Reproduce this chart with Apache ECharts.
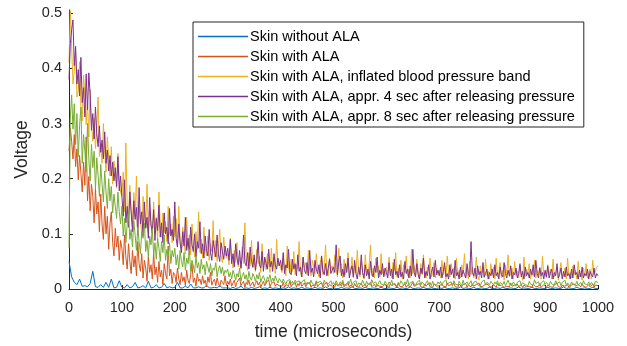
<!DOCTYPE html>
<html>
<head>
<meta charset="utf-8">
<script src="https://cdn.jsdelivr.net/npm/echarts@6/dist/echarts.min.js"></script>
<style>
  html, body { margin: 0; padding: 0; background: #fff; }
  #chart { width: 627px; height: 346px; }
</style>
</head>
<body>
<div id="chart"></div>
<script>
// values in millivolts; one row = 100 microseconds
const NO_ALA_STEP_US = 5;
const SAMPLE_STEP_US = 2.5;

const seriesNames = [
  'Skin without ALA',
  'Skin with ALA',
  'Skin with ALA, inflated blood pressure band',
  'Skin with ALA, appr. 4 sec after releasing pressure',
  'Skin with ALA, appr. 8 sec after releasing pressure'
];

const noAlaMv = [
  50, 22, 12, 8, 18, 5, 6, 4, 10, 32, 4, 3, 8, 3, 12, 3, 18, 2, 3, 15,
  3, 2, 8, 2, 4, 12, 2, 3, 6, 2, 14, 2, 3, 8, 2, 3, 10, 2, 4, 2,
  3, 12, 2, 2, 5, 2, 9, 2, 2, 4, 2, 2, 7, 2, 2, 3, 2, 6, 2, 2,
  2, 1, 3, 1, 2, 5, 1, 2, 1, 3, 1, 2, 4, 1, 2, 1, 3, 1, 2, 1,
  1, 2, 1, 4, 1, 2, 1, 1, 3, 1, 2, 1, 1, 3, 1, 2, 1, 4, 1, 1,
  2, 1, 1, 3, 1, 2, 1, 4, 1, 1, 2, 1, 3, 1, 1, 2, 1, 1, 3, 1,
  1, 2, 1, 1, 3, 1, 2, 1, 1, 4, 1, 1, 2, 1, 3, 1, 1, 2, 1, 1,
  2, 1, 3, 1, 1, 2, 1, 1, 4, 1, 2, 1, 1, 3, 1, 1, 2, 1, 1, 3,
  1, 1, 2, 1, 3, 1, 1, 2, 1, 1, 4, 1, 2, 1, 1, 3, 1, 1, 2, 1,
  1, 3, 1, 1, 2, 1, 1, 4, 1, 2, 1, 1, 3, 1, 1, 2, 1, 1, 3, 1,
  1
];

const withAlaMv = [
  250, 292, 268, 236, 280, 222, 254, 198, 242, 210, 176, 230, 188, 276, 160, 204, 142, 190, 168, 120,
  182, 136, 158, 104, 172, 118, 90, 150, 100, 132, 72, 118, 140, 84, 60, 110, 76, 96, 52, 88,
  74, 44, 98, 58, 36, 82, 50, 28, 70, 40, 60, 24, 86, 46, 32, 64, 20, 52, 38, 14,
  58, 30, 44, 18, 66, 26, 40, 12, 50, 22, 34, 8, 46, 28, 18, 78, 24, 36, 10, 30,
  26, 12, 38, 18, 8, 30, 14, 22, 6, 34, 16, 10, 26, 46, 12, 20, 5, 28, 14, 18,
  8, 24, 10, 16, 4, 22, 12, 30, 7, 14, 18, 6, 20, 10, 4, 16, 12, 8, 24, 6,
  14, 8, 18, 5, 11, 16, 4, 12, 9, 20, 6, 10, 14, 3, 12, 8, 16, 5, 9, 13,
  4, 10, 15, 7, 12, 3, 9, 14, 6, 11, 8, 17, 4, 10, 7, 13, 5, 9, 12, 6,
  9, 5, 12, 3, 8, 11, 6, 14, 4, 9, 7, 12, 3, 10, 6, 13, 5, 8, 11, 4,
  9, 6, 12, 3, 7, 10, 5, 13, 4, 8, 6, 11, 3, 9, 7, 12, 4, 8, 10, 5,
  7, 4, 10, 6, 3, 9, 5, 12, 4, 8, 6, 11, 3, 7, 9, 4, 10, 5, 8, 3,
  6, 11, 4, 7, 9, 3, 8, 5, 12, 4, 6, 9, 3, 7, 10, 5, 8, 4, 6, 9,
  5, 8, 3, 10, 6, 4, 9, 7, 3, 11, 5, 8, 4, 6, 10, 3, 7, 9, 4, 6,
  12, 5, 3, 8, 6, 10, 4, 7, 3, 9, 5, 8, 11, 4, 6, 3, 9, 7, 5, 8,
  6, 3, 9, 5, 7, 4, 11, 6, 3, 8, 5, 10, 4, 7, 3, 9, 6, 4, 8, 5,
  10, 3, 7, 6, 4, 9, 5, 3, 8, 6, 11, 4, 7, 5, 3, 9, 6, 8, 4, 7,
  4, 8, 5, 3, 10, 6, 4, 7, 9, 3, 6, 5, 8, 4, 11, 5, 3, 7, 6, 9,
  4, 5, 8, 3, 7, 10, 4, 6, 5, 8, 3, 9, 6, 4, 7, 5, 10, 3, 6, 8,
  5, 3, 7, 9, 4, 6, 3, 8, 5, 10, 4, 6, 3, 7, 9, 5, 4, 8, 3, 6,
  7, 4, 9, 5, 3, 8, 6, 4, 10, 5, 7, 3, 6, 8, 4, 5, 9, 3, 7, 5,
  6
];

const inflatedMv = [
  410, 505, 440, 372, 395, 430, 348, 360, 412, 330, 305, 388, 352, 298, 340, 276, 362, 300, 268, 310,
  255, 292, 348, 240, 262, 228, 300, 251, 212, 276, 238, 205, 258, 190, 232, 214, 183, 246, 198, 175,
  168, 212, 140, 265, 150, 128, 188, 142, 118, 175, 132, 205, 110, 150, 124, 98, 168, 135, 112, 190,
  104, 142, 120, 96, 158, 108, 130, 88, 176, 115, 94, 138, 102, 122, 86, 150, 99, 118, 84, 132,
  95, 128, 78, 150, 88, 70, 112, 84, 64, 130, 76, 98, 62, 118, 80, 58, 104, 72, 140, 66,
  90, 56, 112, 74, 60, 96, 52, 82, 68, 124, 58, 88, 50, 76, 108, 62, 48, 94, 66, 56,
  64, 44, 92, 52, 38, 70, 48, 84, 40, 58, 36, 76, 46, 120, 50, 34, 66, 42, 88, 38,
  54, 32, 72, 46, 60, 30, 82, 40, 52, 35, 64, 44, 30, 74, 38, 56, 28, 90, 42, 48,
  46, 30, 62, 36, 24, 78, 40, 28, 54, 32, 68, 26, 44, 36, 86, 30, 22, 58, 38, 48,
  26, 70, 34, 24, 52, 40, 28, 64, 32, 22, 48, 60, 26, 38, 80, 30, 24, 56, 34, 42,
  28, 62, 36, 22, 74, 30, 46, 20, 54, 26, 38, 66, 24, 32, 58, 20, 44, 28, 70, 34,
  22, 50, 30, 18, 62, 36, 26, 46, 80, 24, 38, 20, 56, 30, 42, 22, 64, 28, 36, 24,
  40, 24, 58, 30, 20, 48, 34, 66, 22, 38, 26, 52, 18, 44, 30, 60, 24, 36, 20, 72,
  28, 42, 22, 54, 32, 18, 46, 26, 62, 30, 20, 40, 34, 56, 22, 28, 48, 20, 38, 26,
  34, 20, 52, 26, 42, 18, 60, 28, 22, 46, 30, 38, 18, 56, 24, 34, 20, 44, 28, 64,
  22, 36, 18, 50, 26, 40, 20, 30, 58, 24, 16, 42, 28, 36, 20, 54, 24, 32, 18, 46,
  26, 40, 18, 56, 22, 30, 48, 20, 34, 16, 44, 26, 62, 22, 28, 38, 18, 50, 24, 32,
  20, 42, 26, 16, 58, 22, 36, 28, 46, 18, 30, 24, 52, 20, 34, 26, 40, 18, 60, 24,
  30, 20, 44, 26, 36, 18, 54, 22, 28, 40, 16, 32, 48, 20, 26, 38, 18, 56, 24, 30,
  20, 42, 26, 34, 18, 50, 22, 28, 16, 38, 24, 46, 20, 30, 36, 18, 52, 26, 32, 40,
  42
];

const after4sMv = [
  380, 445, 470, 488, 405, 440, 372, 398, 350, 420, 338, 365, 312, 390, 325, 392, 352, 288, 318, 272,
  330, 282, 258, 296, 248, 270, 236, 285, 228, 252, 214, 242, 205, 230, 196, 220, 186, 240, 178, 205,
  168, 132, 198, 120, 150, 112, 176, 138, 104, 160, 126, 148, 98, 184, 118, 140, 96, 158, 110, 130,
  92, 166, 116, 102, 144, 88, 128, 106, 152, 94, 120, 84, 138, 100, 112, 82, 146, 96, 108, 88,
  158, 92, 76, 118, 84, 66, 104, 78, 130, 70, 92, 62, 112, 80, 68, 100, 58, 86, 74, 122,
  64, 82, 56, 96, 70, 60, 108, 66, 52, 88, 72, 58, 98, 62, 50, 84, 68, 54, 78, 60,
  74, 52, 90, 46, 64, 40, 82, 56, 44, 70, 38, 60, 98, 48, 42, 66, 36, 76, 50, 40,
  62, 34, 54, 86, 44, 38, 68, 32, 58, 46, 36, 72, 40, 50, 32, 64, 44, 36, 56, 42,
  52, 34, 66, 28, 44, 38, 72, 30, 26, 54, 36, 46, 24, 62, 32, 40, 22, 58, 34, 28,
  48, 24, 70, 30, 38, 22, 52, 36, 28, 44, 20, 60, 32, 26, 46, 24, 38, 54, 28, 34,
  40, 30, 80, 26, 50, 60, 24, 36, 22, 46, 30, 56, 20, 34, 42, 22, 52, 28, 18, 40,
  26, 62, 30, 20, 44, 24, 36, 18, 50, 28, 22, 42, 30, 58, 20, 34, 26, 46, 22, 38,
  30, 20, 48, 24, 36, 18, 54, 26, 32, 20, 44, 22, 30, 18, 50, 28, 36, 20, 42, 24,
  72, 30, 22, 46, 26, 18, 38, 28, 56, 20, 32, 24, 44, 18, 30, 40, 22, 52, 26, 34,
  24, 40, 20, 32, 48, 22, 28, 18, 44, 26, 36, 20, 52, 24, 30, 18, 40, 22, 34, 26,
  20, 46, 28, 22, 86, 30, 24, 38, 18, 42, 26, 32, 20, 48, 22, 28, 36, 18, 30, 24,
  36, 20, 44, 24, 30, 18, 40, 26, 22, 48, 28, 20, 34, 24, 42, 18, 30, 26, 38, 20,
  28, 46, 22, 32, 18, 40, 24, 30, 20, 36, 26, 44, 22, 52, 28, 20, 38, 24, 30, 18,
  34, 22, 42, 20, 28, 36, 18, 30, 24, 46, 20, 26, 38, 18, 32, 22, 40, 24, 28, 18,
  36, 20, 44, 26, 30, 18, 34, 22, 40, 20, 28, 24, 36, 18, 32, 26, 22, 38, 20, 28,
  24
];

const after8sMv = [
  75, 310, 352, 290, 336, 262, 318, 240, 296, 330, 228, 280, 250, 212, 300, 236, 196, 262, 220, 250,
  180, 238, 206, 168, 226, 190, 158, 214, 176, 146, 200, 160, 186, 138, 172, 150, 128, 176, 140, 118,
  150, 96, 128, 84, 118, 140, 90, 108, 76, 124, 98, 70, 112, 86, 64, 104, 92, 120, 68, 88,
  58, 96, 80, 110, 62, 84, 54, 92, 74, 50, 86, 66, 98, 52, 72, 60, 84, 46, 70, 58,
  74, 44, 62, 36, 70, 50, 40, 66, 34, 56, 46, 72, 32, 52, 42, 30, 60, 38, 48, 28,
  54, 36, 44, 26, 50, 40, 30, 46, 24, 38, 34, 48, 22, 36, 42, 28, 40, 24, 34, 30,
  36, 22, 30, 18, 34, 26, 16, 28, 22, 38, 14, 24, 30, 18, 26, 12, 32, 20, 16, 28,
  22, 14, 26, 18, 30, 12, 20, 24, 16, 10, 22, 18, 26, 12, 20, 14, 24, 16, 11, 19,
  16, 11, 18, 13, 9, 15, 12, 17, 10, 14, 8, 16, 12, 10, 15, 9, 13, 11, 17, 8,
  12, 14, 9, 16, 10, 13, 7, 15, 11, 9, 14, 12, 8, 16, 10, 13, 9, 11, 15, 8,
  12, 7, 15, 10, 5, 13, 9, 16, 8, 11, 6, 14, 10, 18, 7, 12, 9, 15, 5, 11,
  13, 8, 16, 10, 6, 14, 9, 12, 7, 17, 10, 8, 13, 5, 11, 15, 9, 12, 7, 14,
  10, 6, 13, 9, 16, 7, 11, 14, 5, 12, 8, 15, 10, 6, 13, 9, 18, 7, 11, 8,
  14, 10, 5, 12, 9, 16, 7, 13, 10, 6, 11, 15, 8, 12, 6, 14, 9, 11, 7, 13,
  9, 14, 6, 12, 10, 17, 7, 11, 8, 13, 5, 15, 9, 12, 7, 14, 10, 6, 16, 8,
  11, 13, 7, 10, 15, 6, 12, 9, 14, 8, 11, 5, 13, 10, 16, 7, 12, 9, 8, 14,
  11, 7, 13, 9, 15, 6, 12, 10, 8, 14, 6, 11, 16, 9, 12, 7, 13, 10, 5, 12,
  9, 15, 7, 11, 13, 8, 10, 6, 14, 9, 12, 7, 17, 10, 8, 13, 6, 11, 9, 15,
  8, 12, 10, 6, 14, 9, 11, 7, 15, 10, 8, 13, 6, 12, 9, 16, 7, 11, 10, 5,
  13, 9, 12, 8, 14, 7, 10, 12, 6, 15, 9, 11, 8, 13, 7, 12, 10, 6, 14, 11,
  12
];

const yTicks = [0, 0.1, 0.2, 0.3, 0.4, 0.5];
const xTicks = [0, 100, 200, 300, 400, 500, 600, 700, 800, 900, 1000];

const colors = ['#0072BD', '#D95319', '#EDB120', '#7E2F8E', '#77AC30'];
const allMv = [noAlaMv, withAlaMv, inflatedMv, after4sMv, after8sMv];
const steps = [NO_ALA_STEP_US, SAMPLE_STEP_US, SAMPLE_STEP_US, SAMPLE_STEP_US, SAMPLE_STEP_US];

const toPoints = (arr, step) => arr.map((mv, i) => [i * step, mv / 1000]);

const font = 'Liberation Sans, Arial, Helvetica, sans-serif';
const axisColor = '#262626';

const chart = echarts.init(document.getElementById('chart'), null, { renderer: 'canvas' });

chart.setOption({
  animation: false,
  color: colors,
  textStyle: { fontFamily: font },
  grid: { left: 69, right: 29, top: 10, bottom: 53 },
  legend: {
    orient: 'vertical',
    left: 193,
    top: 22,
    padding: [7, 9, 3, 5],
    icon: 'rect',
    itemWidth: 50,
    itemHeight: 1.5,
    itemGap: 5,
    borderColor: '#262626',
    borderWidth: 1,
    backgroundColor: '#fff',
    textStyle: { fontSize: 14.5, color: '#000', fontFamily: font, padding: [0, 0, 0, -3] },
    data: seriesNames
  },
  xAxis: {
    type: 'value',
    min: xTicks[0],
    max: xTicks[xTicks.length - 1],
    interval: 100,
    name: 'time (microseconds)',
    nameLocation: 'middle',
    nameGap: 34,
    nameTextStyle: { fontSize: 17.5, color: axisColor },
    axisLine: { show: true, lineStyle: { color: axisColor, width: 1 } },
    axisTick: { show: true, inside: true, length: 4, lineStyle: { color: axisColor } },
    axisLabel: { fontSize: 14.5, color: axisColor, margin: 11, formatter: v => String(v) },
    splitLine: { show: false }
  },
  yAxis: {
    type: 'value',
    min: yTicks[0],
    max: 0.506,
    interval: 0.1,
    name: 'Voltage',
    nameLocation: 'middle',
    nameGap: 32,
    nameTextStyle: { fontSize: 17.5, color: axisColor },
    axisLine: { show: true, lineStyle: { color: axisColor, width: 1 } },
    axisTick: { show: true, inside: true, length: 4, lineStyle: { color: axisColor } },
    axisLabel: {
      fontSize: 14.5, color: axisColor, margin: 7, showMaxLabel: false,
      formatter: v => (yTicks.some(t => Math.abs(t - v) < 1e-9) ? String(+v.toFixed(1)) : '')
    },
    splitLine: { show: false }
  },
  series: seriesNames.map((name, k) => ({
    name,
    type: 'line',
    data: toPoints(allMv[k], steps[k]),
    symbol: 'none',
    showSymbol: false,
    lineStyle: { width: 1, color: colors[k] },
    itemStyle: { color: colors[k] },
    z: 2 + k
  }))
});
</script>
</body>
</html>
